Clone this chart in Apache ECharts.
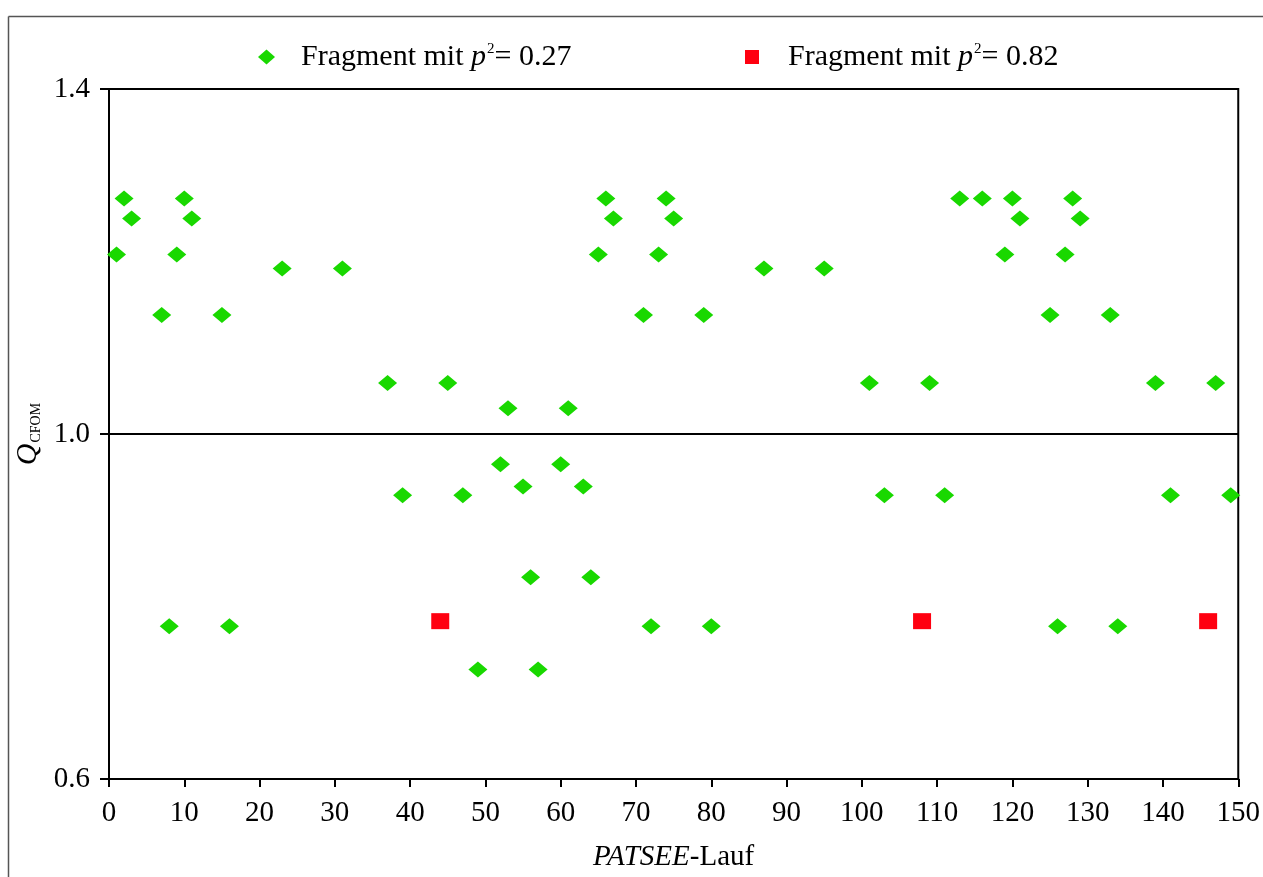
<!DOCTYPE html>
<html>
<head>
<meta charset="utf-8">
<script src="https://cdn.jsdelivr.net/npm/echarts@6/dist/echarts.min.js"></script>
<style>html,body{margin:0;padding:0;background:#fff;}#c{width:1263px;height:877px;}</style>
</head>
<body>
<div id="c"></div>
<script>
// Data
var greenRuns = [1,2,3,7,8,9,10,11,15,16,23,31,37,39,45,47,49,52,53,55,56,57,60,61,63,64,65,66,67,71,72,73,74,75,79,80,87,95,101,103,109,111,113,116,119,120,121,125,126,127,128,129,133,134,139,141,147,149];
var greenQ = [1.208,1.273,1.250,1.138,0.777,1.208,1.273,1.250,1.138,0.777,1.192,1.192,1.059,0.929,1.059,0.929,0.727,0.965,1.030,0.939,0.834,0.727,0.965,1.030,0.939,0.834,1.208,1.273,1.250,1.138,0.777,1.208,1.273,1.250,1.138,0.777,1.192,1.192,1.059,0.929,1.059,0.929,1.273,1.273,1.208,1.273,1.250,1.138,0.777,1.208,1.273,1.250,1.138,0.777,1.059,0.929,1.059,0.929];
var redRuns = [44,108,146];
var redQ = [0.783,0.783,0.783];
var xTicks = {min:0, max:150, step:10};
var yTicks = {min:0.6, max:1.4, step:0.4};
var seriesNames = ['Fragment mit p2 = 0.27','Fragment mit p2 = 0.82'];
var seriesLabels = ['0.27','0.82'];

function pairs(xs, ys){ return xs.map(function(x,i){ return [x, ys[i]]; }); }

var FONT = 'Liberation Serif';
function makeRich(pad){
  return {
    n:{fontFamily:FONT,fontSize:30,color:'#000'},
    n0:{fontFamily:FONT,fontSize:30,color:'#000',padding:[0,0,0,pad]},
    i:{fontFamily:FONT,fontSize:30,fontStyle:'italic',color:'#000'},
    s:{fontFamily:FONT,fontSize:15,color:'#000',verticalAlign:'top',padding:[0,0,14,1]}
  };
}
function legendFmt(name){
  var idx = seriesNames.indexOf(name);
  return '{n0|Fragment mit }{i|p}{s|2}{n|= ' + seriesLabels[idx] + '}';
}

var chart = echarts.init(document.getElementById('c'), null, {renderer:'canvas'});
chart.setOption({
  animation:false,
  backgroundColor:'#fff',
  graphic:[
    {type:'line',shape:{x1:8.5,y1:16.5,x2:1263,y2:16.5},style:{stroke:'#555',lineWidth:1.5},silent:true,z:-1},
    {type:'line',shape:{x1:8.5,y1:16.5,x2:8.5,y2:877},style:{stroke:'#555',lineWidth:1.5},silent:true,z:-1}
  ],
  legend:[
    {data:[seriesNames[0]],left:253,top:37,itemWidth:17,itemHeight:15,formatter:legendFmt,textStyle:{rich:makeRich(21)}},
    {data:[seriesNames[1]],left:740,top:37,itemWidth:14,itemHeight:14,formatter:legendFmt,textStyle:{rich:makeRich(24)}}
  ],
  grid:{left:109,right:24,top:89,bottom:97,show:true,borderColor:'#000',borderWidth:2,backgroundColor:'transparent'},
  xAxis:{
    type:'value',min:xTicks.min,max:xTicks.max,interval:xTicks.step,
    name:'{i|PATSEE}{n|-Lauf}',nameLocation:'middle',nameGap:64,
    nameTextStyle:{rich:{i:{fontFamily:FONT,fontSize:29,fontStyle:'italic',color:'#000'},n:{fontFamily:FONT,fontSize:29,color:'#000'}}},
    axisLine:{lineStyle:{color:'#000',width:2}},
    axisTick:{inside:false,length:8,lineStyle:{color:'#000',width:2}},
    axisLabel:{fontFamily:FONT,fontSize:29,color:'#000',margin:20},
    splitLine:{show:false}
  },
  yAxis:{
    type:'value',min:yTicks.min,max:yTicks.max,interval:yTicks.step,
    name:'{q|Q}{s|CFOM}',nameLocation:'middle',nameRotate:90,nameGap:58,
    nameTextStyle:{rich:{q:{fontFamily:FONT,fontSize:30,fontStyle:'italic',color:'#000'},s:{fontFamily:FONT,fontSize:14,color:'#000',verticalAlign:'bottom',padding:[6,0,0,1]}}},
    axisLine:{lineStyle:{color:'#000',width:2}},
    axisTick:{inside:false,length:9,lineStyle:{color:'#000',width:2}},
    axisLabel:{fontFamily:FONT,fontSize:29,color:'#000',margin:19,formatter:function(v){return v.toFixed(1);}},
    splitLine:{show:false}
  },
  series:[
    {name:seriesNames[0],type:'scatter',symbol:'diamond',symbolSize:[19,16],itemStyle:{color:'#19d800',opacity:1},data:pairs(greenRuns,greenQ),z:3,
     markLine:{silent:true,symbol:['none','none'],label:{show:false},lineStyle:{color:'#000',width:2,type:'solid'},data:[{yAxis:1.0}]}},
    {name:seriesNames[1],type:'scatter',symbol:'rect',symbolSize:[18,16],itemStyle:{color:'#ff0010',opacity:1},data:pairs(redRuns,redQ),z:3}
  ]
});
</script>
</body>
</html>
